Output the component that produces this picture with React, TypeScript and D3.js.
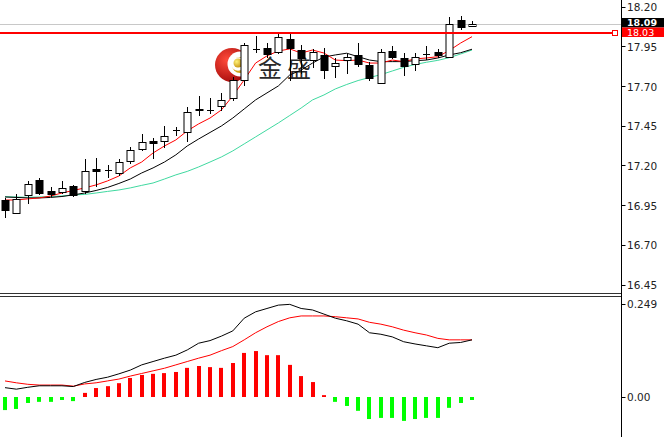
import React from 'react';
import * as d3 from 'd3';

const W = 664;
const H = 437;

// Price data (OHLC) per bar
const opens = [16.982, 16.900, 17.014, 17.108, 17.039, 17.033, 17.071, 17.039, 17.177, 17.171, 17.152, 17.228, 17.303, 17.354, 17.354, 17.423, 17.410, 17.552, 17.549, 17.574, 17.624, 17.738, 17.933, 17.939, 17.914, 17.996, 17.926, 17.863, 17.895, 17.826, 17.863, 17.895, 17.832, 17.719, 17.920, 17.876, 17.838, 17.901, 17.914, 17.882, 18.115, 18.077];
const highs = [16.995, 17.020, 17.102, 17.121, 17.064, 17.102, 17.077, 17.240, 17.247, 17.203, 17.240, 17.316, 17.398, 17.373, 17.448, 17.442, 17.568, 17.637, 17.624, 17.656, 17.756, 17.970, 18.014, 17.970, 18.027, 18.027, 17.958, 17.933, 17.939, 17.876, 17.901, 17.970, 17.851, 17.933, 17.951, 17.907, 17.907, 17.951, 17.933, 18.134, 18.140, 18.109];
const lows = [16.875, 16.900, 16.963, 17.020, 17.007, 17.026, 17.007, 17.026, 17.071, 17.127, 17.140, 17.215, 17.297, 17.247, 17.316, 17.391, 17.354, 17.517, 17.530, 17.549, 17.612, 17.706, 17.914, 17.882, 17.907, 17.738, 17.782, 17.819, 17.750, 17.756, 17.782, 17.826, 17.738, 17.719, 17.876, 17.769, 17.800, 17.870, 17.882, 17.882, 18.058, 18.077];
const closes = [16.919, 16.989, 17.083, 17.026, 17.020, 17.058, 17.014, 17.165, 17.165, 17.170, 17.221, 17.297, 17.347, 17.341, 17.385, 17.423, 17.536, 17.549, 17.549, 17.612, 17.738, 17.958, 17.932, 17.901, 18.008, 17.939, 17.876, 17.914, 17.800, 17.844, 17.882, 17.838, 17.750, 17.914, 17.882, 17.826, 17.882, 17.900, 17.895, 18.090, 18.071, 18.090];

// Moving averages
const maFast = [16.982, 16.982, 16.989, 16.995, 17.007, 17.026, 17.042, 17.058, 17.077, 17.102, 17.133, 17.184, 17.221, 17.278, 17.322, 17.360, 17.417, 17.461, 17.498, 17.549, 17.637, 17.738, 17.844, 17.889, 17.920, 17.933, 17.907, 17.926, 17.907, 17.863, 17.859, 17.863, 17.844, 17.844, 17.863, 17.853, 17.870, 17.876, 17.884, 17.923, 17.970, 18.010];
const maMid = [17.001, 16.998, 16.995, 16.995, 16.998, 17.004, 17.014, 17.026, 17.042, 17.061, 17.086, 17.114, 17.152, 17.184, 17.221, 17.266, 17.322, 17.366, 17.407, 17.448, 17.498, 17.555, 17.612, 17.656, 17.700, 17.769, 17.800, 17.844, 17.882, 17.895, 17.906, 17.884, 17.863, 17.853, 17.853, 17.853, 17.859, 17.863, 17.876, 17.895, 17.909, 17.931];
const maSlow = [17.003, 17.001, 16.999, 17.001, 17.004, 17.007, 17.014, 17.017, 17.026, 17.036, 17.045, 17.058, 17.074, 17.089, 17.114, 17.140, 17.162, 17.190, 17.221, 17.253, 17.291, 17.335, 17.379, 17.423, 17.467, 17.514, 17.561, 17.612, 17.643, 17.681, 17.709, 17.734, 17.753, 17.771, 17.794, 17.817, 17.835, 17.849, 17.861, 17.878, 17.901, 17.926];

// MACD
const macdHist = [-0.035, -0.032, -0.016, -0.013, -0.013, -0.008, -0.011, 0.011, 0.024, 0.029, 0.037, 0.051, 0.059, 0.062, 0.064, 0.067, 0.078, 0.083, 0.080, 0.078, 0.091, 0.118, 0.123, 0.112, 0.112, 0.086, 0.056, 0.040, 0.005, -0.013, -0.024, -0.037, -0.059, -0.056, -0.056, -0.064, -0.059, -0.056, -0.056, -0.029, -0.016, -0.008];
const macdMain = [0.025, 0.021, 0.026, 0.030, 0.030, 0.030, 0.028, 0.039, 0.047, 0.053, 0.062, 0.072, 0.086, 0.095, 0.104, 0.112, 0.126, 0.144, 0.151, 0.163, 0.177, 0.211, 0.228, 0.237, 0.246, 0.248, 0.237, 0.233, 0.222, 0.211, 0.204, 0.195, 0.172, 0.168, 0.161, 0.148, 0.142, 0.137, 0.132, 0.144, 0.146, 0.153];
const macdSignal = [0.043, 0.038, 0.034, 0.032, 0.032, 0.032, 0.029, 0.035, 0.038, 0.043, 0.048, 0.056, 0.063, 0.070, 0.077, 0.086, 0.095, 0.104, 0.112, 0.124, 0.135, 0.153, 0.172, 0.188, 0.202, 0.212, 0.217, 0.217, 0.217, 0.215, 0.212, 0.209, 0.200, 0.195, 0.188, 0.179, 0.172, 0.166, 0.157, 0.153, 0.153, 0.153];

const priceTicks = [18.20, 17.95, 17.70, 17.45, 17.20, 16.95, 16.70, 16.45];
const macdTicks = [0.249, 0];
const macdTickLabels = ['0.249', '0.00'];
const bidPrice = 18.09;
const levelPrice = 18.03;
const logoText = ['金', '盛'];

const FONT = '"DejaVu Sans", Verdana, sans-serif';

export default function App() {
  const N = closes.length;
  const x = d3.scaleLinear().domain([0, N - 1]).range([5, 472]);
  const y = d3.scaleLinear().domain([16.45, 18.2]).range([284.5, 6.5]);
  const ym = d3.scaleLinear().domain([0, 0.249]).range([397, 304]);
  const axisX = 621.5;

  const priceLine = d3.line<number>().x((_, i) => x(i)).y((d) => y(d));
  const macdLineGen = d3.line<number>().x((_, i) => x(i)).y((d) => ym(d));

  const bidY = Math.round(y(bidPrice)) + 0.5;
  const levelY = y(levelPrice) - 0.5;

  return (
    <svg width={W} height={H} style={{ position: 'absolute', left: 0, top: 0, background: '#fff' }}>
      <defs>
        <radialGradient id="logoRed" cx="35%" cy="35%" r="75%">
          <stop offset="0%" stopColor="#ff4a3a" />
          <stop offset="100%" stopColor="#a00808" />
        </radialGradient>
        <radialGradient id="logoGold" cx="35%" cy="35%" r="70%">
          <stop offset="0%" stopColor="#fff27a" />
          <stop offset="100%" stopColor="#c89410" />
        </radialGradient>
      </defs>
      <rect x={0} y={0} width={W} height={H} fill="#fff" />

      {/* watermark logo */}
      <g>
        <circle cx={232} cy={65} r={17} fill="url(#logoRed)" />
        <circle cx={240} cy={64} r={12.5} fill="#fff" />
        <circle cx={240} cy={65} r={8} fill="#d4a41c" />
        <circle cx={238} cy={64} r={6.8} fill="#fff" />
        <circle cx={238} cy={63} r={4.5} fill="url(#logoGold)" />
        <text x={258} y={77} fontFamily='"Noto Sans CJK SC", sans-serif' fontSize={24} fill="#2a2a2a">{logoText[0]}</text>
        <text x={287} y={77} fontFamily='"Noto Sans CJK SC", sans-serif' fontSize={24} fill="#2a2a2a">{logoText[1]}</text>
      </g>

      {/* bid line */}
      <line x1={0} x2={axisX} y1={bidY} y2={bidY} stroke="#c8c8c8" strokeWidth={1} />

      {/* moving averages */}
      <path d={priceLine(maSlow) || ''} fill="none" stroke="#3fd9a0" strokeWidth={1} />
      <path d={priceLine(maMid) || ''} fill="none" stroke="#000" strokeWidth={1} />
      <path d={priceLine(maFast) || ''} fill="none" stroke="#ff0000" strokeWidth={1} />

      {/* candles */}
      {closes.map((c, i) => {
        const o = opens[i];
        const cx = Math.round(x(i)) + 0.5;
        const top = Math.round(y(Math.max(o, c))) + 0.5;
        const bot = Math.round(y(Math.min(o, c))) + 0.5;
        const bull = c >= o;
        return (
          <g key={i}>
            <line x1={cx} x2={cx} y1={Math.round(y(highs[i]))} y2={Math.round(y(lows[i])) + 1} stroke="#000" strokeWidth={1} />
            {bot - top < 1 ? (
              <line x1={cx - 3.5} x2={cx + 3.5} y1={top} y2={top} stroke="#000" strokeWidth={1} />
            ) : (
              <rect x={cx - 3.5} y={top} width={7} height={bot - top} fill={bull ? '#fff' : '#000'} stroke="#000" strokeWidth={1} />
            )}
          </g>
        );
      })}

      {/* level line */}
      <line x1={0} x2={612} y1={levelY} y2={levelY} stroke="#ff0000" strokeWidth={2} />
      <rect x={612.5} y={levelY - 2.5} width={5} height={5} fill="#fff" stroke="#ff0000" strokeWidth={1} />

      {/* panel separators */}
      <line x1={0} x2={axisX} y1={293.5} y2={293.5} stroke="#333" strokeWidth={1} />
      <line x1={0} x2={axisX} y1={296.5} y2={296.5} stroke="#333" strokeWidth={1} />

      {/* MACD histogram */}
      {macdHist.map((v, i) => {
        const cx = Math.round(x(i));
        const y0 = ym(0);
        const y1 = ym(v);
        return (
          <rect key={i} x={cx - 2} y={Math.min(y0, y1)} width={4} height={Math.max(1, Math.abs(y1 - y0))} fill={v >= 0 ? '#ff0000' : '#00ff00'} />
        );
      })}
      <path d={macdLineGen(macdSignal) || ''} fill="none" stroke="#ff0000" strokeWidth={1} />
      <path d={macdLineGen(macdMain) || ''} fill="none" stroke="#000" strokeWidth={1} />

      {/* right axis */}
      <line x1={axisX} x2={axisX} y1={0} y2={H} stroke="#000" strokeWidth={1} />
      {priceTicks.map((t) => (
        <g key={t}>
          <line x1={axisX} x2={axisX + 4} y1={Math.round(y(t)) + 0.5} y2={Math.round(y(t)) + 0.5} stroke="#000" />
          <text x={627} y={y(t) + 1} dy="0.35em" fontFamily={FONT} fontSize={10.5} fill="#222">{t.toFixed(2)}</text>
        </g>
      ))}
      {macdTicks.map((t, i) => (
        <g key={t}>
          <line x1={axisX} x2={axisX + 4} y1={Math.round(ym(t)) + 0.5} y2={Math.round(ym(t)) + 0.5} stroke="#000" />
          <text x={627} y={ym(t)} dy="0.35em" fontFamily={FONT} fontSize={10.5} fill="#222">{macdTickLabels[i]}</text>
        </g>
      ))}

      {/* price labels */}
      <rect x={622} y={18} width={42} height={9.5} fill="#000" />
      <text x={627} y={22.3} dy="0.35em" fontFamily={FONT} fontSize={9.5} fontWeight="bold" fill="#fff">{bidPrice.toFixed(2)}</text>
      <rect x={622} y={27.5} width={42} height={9.5} fill="#ff0000" />
      <text x={627} y={33} dy="0.35em" fontFamily={FONT} fontSize={9.5} fill="#fff">{levelPrice.toFixed(2)}</text>
    </svg>
  );
}
